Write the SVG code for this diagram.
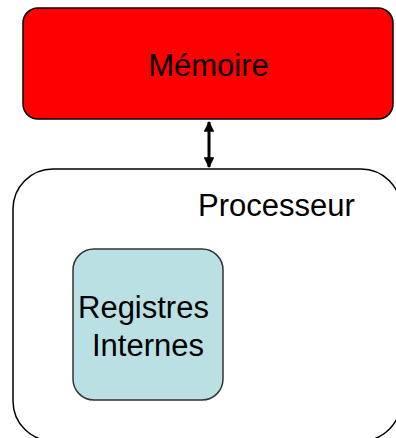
<svg xmlns="http://www.w3.org/2000/svg" width="396" height="438" viewBox="0 0 396 438">
  <style>
    .lbl { font-family: "Liberation Sans", Arial, sans-serif; font-size: 31px; fill: #000; }
    .box { stroke: #000; stroke-width: 1.5; }
  </style>
  <defs>
    <marker id="head" viewBox="0 0 10 10" refX="9" refY="5" markerWidth="4" markerHeight="3.6" orient="auto-start-reverse" markerUnits="strokeWidth">
      <path d="M0,0 L10,5 L0,10 Z" fill="#000"/>
    </marker>
  </defs>
  <rect width="396" height="438" fill="#fff"/>

  <g id="processeur">
    <rect class="box" x="13" y="169" width="388" height="272" rx="40" ry="40" fill="#fff"/>
    <text class="lbl" x="198" y="216">Processeur</text>
  </g>

  <g id="memoire">
    <rect class="box" x="23" y="8" width="370" height="111" rx="15" ry="15" fill="#ff0000"/>
    <text class="lbl" x="208.5" y="76" text-anchor="middle">Mémoire</text>
  </g>

  <g id="registres">
    <rect x="73" y="249" width="150" height="151" rx="21" ry="21" fill="#bbe0e3" stroke="#333" stroke-width="1.5"/>
    <text class="lbl" x="78" y="318">Registres</text>
    <text class="lbl" x="92" y="356">Internes</text>
  </g>

  <g id="connectors">
    <line x1="209" y1="122" x2="209" y2="167" stroke="#000" stroke-width="3" marker-start="url(#head)" marker-end="url(#head)"/>
  </g>
</svg>
